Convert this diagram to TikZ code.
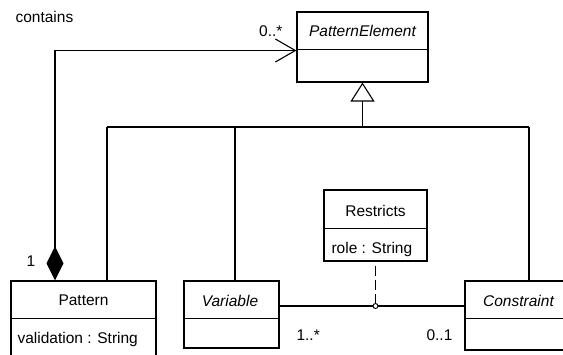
\documentclass[tikz,border=0pt]{standalone}
\usepackage{fontspec}
\setmainfont{Liberation Sans}
\usetikzlibrary{arrows.meta}
\begin{document}
\begin{tikzpicture}[x=1pt,y=-1pt,line width=1.1pt]
\tikzset{
  umlbox/.style={draw, fill=white, inner sep=0pt},
  lbl/.style={inner sep=0pt, font=\fontsize{15.5}{18}\selectfont},
  ilbl/.style={lbl, font=\fontsize{15.5}{18}\selectfont\itshape},
  assocdash/.style={dash pattern=on 10pt off 4pt, dash phase=10pt},
}
\fill[white] (0,0) rectangle (563,354);
\useasboundingbox (0,0) rectangle (563,354);
\clip (0,0) rectangle (563,354);

% class boxes
\node[umlbox, minimum width=131pt, minimum height=70pt] (pe)  at (362.5,47)    {};
\node[umlbox, minimum width=145pt, minimum height=77pt] (pat) at (83.5,319.5)  {};
\node[umlbox, minimum width=95pt,  minimum height=67pt] (var) at (231.5,314.5) {};
\node[umlbox, minimum width=107pt, minimum height=69pt] (con) at (518.5,315.5) {};
\node[umlbox, minimum width=103pt, minimum height=71pt] (res) at (375.5,225.5) {};

% compartment dividers
\draw ([yshift=-38pt]pe.north west)  -- ([yshift=-38pt]pe.north east);
\draw ([yshift=-38pt]pat.north west) -- ([yshift=-38pt]pat.north east);
\draw ([yshift=-38pt]var.north west) -- ([yshift=-38pt]var.north east);
\draw ([yshift=-38pt]con.north west) -- ([yshift=-38pt]con.north east);
\draw ([yshift=-39pt]res.north west) -- ([yshift=-39pt]res.north east);

% class names and attributes
\node[ilbl, anchor=base] (peName)  at (362.5,36.5) {PatternElement};
\node[lbl,  anchor=base] (patName) at (83.5,305.5) {Pattern};
\node[lbl,  anchor=base west] (patAttr) at (17,343) {validation : String};
\node[ilbl, anchor=base] (varName) at (230,306)    {Variable};
\node[ilbl, anchor=base] (conName) at (518.5,306)  {Constraint};
\node[lbl,  anchor=base] (resName) at (375.5,216)  {Restricts};
\node[lbl,  anchor=base west] (resAttr) at (331,253) {role : String};

% generalization tree
\coordinate (hub)  at (362.5,127);
\coordinate (busL) at (107,127);
\coordinate (busV) at (235,127);
\coordinate (busR) at (529,127);
\draw[-{Triangle[open,length=19pt,width=24pt]}] (hub) -- (pe.south);
\draw (busL) -- (busR);
\draw (busL) -- (busL |- pat.north);
\draw (busV) -- (busV |- var.north);
\draw (busR) -- (busR |- con.north);

% composition: Pattern contains PatternElement
\coordinate (cx)   at (55,0);
\coordinate (peIn) at (0,50.5);
\draw[{Diamond[length=34pt,width=17pt,fill=black]}-{Straight Barb[length=20pt,width=23pt]}]
  (pat.north -| cx) |- (pe.west |- peIn);

% association class Restricts between Variable and Constraint
\coordinate (knotpt) at (375.5,306);
\draw (var.east |- knotpt) -- (con.west |- knotpt);
\draw[assocdash] (res.south) -- (knotpt);
\node[circle, draw, fill=white, inner sep=0pt, minimum size=5pt, line width=0.9pt] (knot) at (knotpt) {};

% labels
\node[lbl, anchor=base west] (contains) at (15,22)  {contains};
\node[lbl, anchor=base east] (mPE)      at (283,36) {0..*};
\node[lbl, anchor=base west] (mPat)     at (26,266) {1};
\node[lbl, anchor=base west] (mVar)     at (296,340) {1..*};
\node[lbl, anchor=base west] (mCon)     at (426,340) {0..1};
\end{tikzpicture}
\end{document}
